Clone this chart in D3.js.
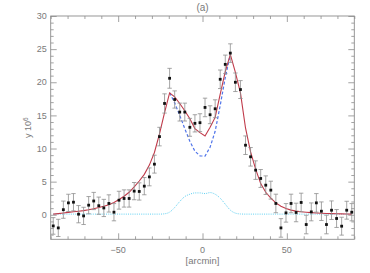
<!DOCTYPE html>
<html>
<head>
<meta charset="utf-8">
<script src="https://cdn.jsdelivr.net/npm/d3@7"></script>
<style>
  body { margin: 0; background: #fff; }
  text { font-family: "Liberation Sans", Arial, sans-serif; }
</style>
</head>
<body>
<svg id="chart" width="370" height="273"></svg>
<script>
// offsets along the scan, arcmin
const offsets = [-88.5, -85.5, -82.5, -79.5, -76.5, -73.5, -70.5, -67.5, -64.5, -61.5,
    -58.5, -55.5, -52.5, -49.5, -46.5, -43.5, -40.5, -37.5, -34.5, -31.5,
    -28.5, -25.5, -22.5, -19.5, -16.5, -13.5, -10.5, -7.5, -4.5, -1.5,
    1.5, 4.5, 7.5, 10.5, 13.5, 16.5, 19.5, 22.5, 25.5, 28.5,
    31.5, 34.5, 37.5, 40.5, 43.5, 46.5, 49.5, 52.5, 55.5, 58.5,
    61.5, 64.5, 67.5, 70.5, 73.5, 76.5, 79.5, 82.5, 85.5, 88.5];

// measured y (x 10^6)
const measured = [-1.68, -1.98, 0.77, 1.80, 1.90, 0.09, -0.17, 1.45, 2.08, 1.37,
    1.03, 1.71, 0.39, 2.20, 2.46, 2.46, 3.57, 3.52, 4.32, 5.72,
    7.64, 11.8, 16.8, 20.6, 17.4, 15.5, 15.5, 13.2, 13.8, 13.9,
    16.2, 15.1, 16.0, 20.45, 22.7, 24.4, 20.0, 18.9, 10.5, 8.75,
    6.74, 5.48, 4.47, 3.72, 1.71, -1.98, 0.29, 1.71, 0.35, 1.86,
    -1.47, 0.44, 1.80, 0.54, -1.47, 0.69, -0.56, -1.72, 0.69, 0.39];

const errors = [1.25, 1.3, 1.3, 1.3, 1.3, 1.3, 1.3, 1.3, 1.3, 1.3,
    1.3, 1.3, 1.3, 1.35, 1.3, 1.3, 1.3, 1.3, 1.3, 1.35,
    1.35, 1.4, 1.45, 1.5, 1.3, 1.35, 1.35, 1.35, 1.3, 1.35,
    1.4, 1.35, 1.35, 1.4, 1.4, 1.4, 1.4, 1.35, 1.4, 1.4,
    1.4, 1.35, 1.4, 1.35, 1.4, 1.4, 1.4, 1.4, 1.4, 1.4,
    1.4, 1.35, 1.4, 1.4, 1.4, 1.4, 1.35, 1.35, 1.35, 1.3];

// total model (solid red)
const totalModel = [0.1, 0.18, 0.27, 0.36, 0.45, 0.54, 0.63, 0.75, 0.92, 1.1,
    1.3, 1.5, 1.85, 2.3, 2.8, 3.4, 4.2, 5.1, 6.1, 7.5,
    9.4, 12.2, 15.4, 18.4, 17.8, 16.8, 15.7, 14.5, 13.0, 12.4,
    11.9, 13.2, 14.7, 18.2, 21.6, 24.2, 21.5, 18.4, 13.1, 9.5,
    6.9, 4.7, 3.4, 2.5, 1.8, 1.3, 0.95, 0.7, 0.55, 0.45,
    0.38, 0.32, 0.27, 0.23, 0.2, 0.17, 0.15, 0.13, 0.11, 0.1];

// model without central component (dashed blue), only where it leaves the total
const dipOffsets = [-19.5, -16.5, -13.5, -10.5, -7.5, -4.5, -1.5, 1.5, 4.5, 7.5, 10.5, 13.5, 16.5];
const dipModel = [18.4, 16.9, 15.0, 13.0, 11.1, 9.6, 8.9, 8.85, 10.2, 12.6, 16.5, 20.7, 24.2];

// central component (dotted cyan)
const bumpModel = [0.1, 0.1, 0.1, 0.1, 0.1, 0.1, 0.1, 0.1, 0.1, 0.1,
    0.1, 0.1, 0.1, 0.1, 0.1, 0.1, 0.1, 0.1, 0.1, 0.1,
    0.1, 0.1, 0.15, 0.4, 1.1, 2.0, 2.75, 3.1, 3.3, 3.3,
    3.2, 3.35, 3.1, 2.5, 1.6, 0.7, 0.25, 0.12, 0.1, 0.1,
    0.1, 0.1, 0.1, 0.1, 0.1, 0.1, 0.1, 0.1, 0.1, 0.1,
    0.1, 0.1, 0.1, 0.1, 0.1, 0.1, 0.1, 0.1, 0.1, 0.1];

const xMajorTicks = [-50, 0, 50];
const yMajorTicks = [0, 5, 10, 15, 20, 25, 30];

const width = 370, height = 273;
const margin = { top: 16, right: 15.7, bottom: 33.7, left: 50.7 };
const innerW = width - margin.left - margin.right;
const innerH = height - margin.top - margin.bottom;

const axisColour = "#8c8c8c";
const labelColour = "#7a7a7a";

const svg = d3.select("#chart");
const chartArea = svg.append("g")
    .attr("transform", `translate(${margin.left},${margin.top})`);

const xScale = d3.scaleLinear().domain([-90, 90]).range([0, innerW]);
const yScale = d3.scaleLinear().domain([-3.7, 30]).range([innerH, 0]);

const xMinorTicks = xScale.ticks(18).filter(d => !xMajorTicks.includes(d));
const yMinorTicks = yScale.ticks(34).filter(d => !yMajorTicks.includes(d));

// frame and inward ticks on all four sides
const addAxis = (axisFn, scale, ticks, size, transform) => {
    const g = chartArea.append("g")
        .attr("transform", transform)
        .call(axisFn(scale).tickValues(ticks).tickSize(size).tickFormat(""));
    g.selectAll("path").remove();
    g.selectAll("line").attr("stroke", axisColour).attr("stroke-width", 0.8);
    return g;
};

addAxis(d3.axisBottom, xScale, xMajorTicks, -6, `translate(0,${innerH})`);
addAxis(d3.axisBottom, xScale, xMinorTicks, -3, `translate(0,${innerH})`);
addAxis(d3.axisTop, xScale, xMajorTicks, -6, "translate(0,0)");
addAxis(d3.axisTop, xScale, xMinorTicks, -3, "translate(0,0)");
addAxis(d3.axisLeft, yScale, yMajorTicks, -6, "translate(0,0)");
addAxis(d3.axisLeft, yScale, yMinorTicks, -3, "translate(0,0)");
addAxis(d3.axisRight, yScale, yMajorTicks, -6, `translate(${innerW},0)`);
addAxis(d3.axisRight, yScale, yMinorTicks, -3, `translate(${innerW},0)`);

chartArea.append("rect")
    .attr("width", innerW)
    .attr("height", innerH)
    .attr("fill", "none")
    .attr("stroke", axisColour)
    .attr("stroke-width", 0.9);

chartArea.selectAll(".x-label")
    .data(xMajorTicks)
    .join("text")
    .attr("class", "x-label")
    .attr("x", d => xScale(d))
    .attr("y", innerH + 14)
    .attr("text-anchor", "middle")
    .attr("font-size", 9)
    .attr("fill", labelColour)
    .text(d => d < 0 ? "\u2212" + Math.abs(d) : d);

chartArea.selectAll(".y-label")
    .data(yMajorTicks)
    .join("text")
    .attr("class", "y-label")
    .attr("x", -4)
    .attr("y", d => yScale(d))
    .attr("dy", "0.35em")
    .attr("text-anchor", "end")
    .attr("font-size", 9)
    .attr("fill", labelColour)
    .text(d => d);

// model curves
const modelLine = (xs) => d3.line()
    .x((d, i) => xScale(xs[i]))
    .y(d => yScale(d));

chartArea.append("path")
    .datum(bumpModel)
    .attr("fill", "none")
    .attr("stroke", "#5fd0f2")
    .attr("stroke-width", 1)
    .attr("stroke-dasharray", "1,1.2")
    .attr("d", modelLine(offsets).curve(d3.curveMonotoneX));

chartArea.append("path")
    .datum(dipModel)
    .attr("fill", "none")
    .attr("stroke", "#4f74ea")
    .attr("stroke-width", 1.2)
    .attr("stroke-dasharray", "3,2")
    .attr("d", modelLine(dipOffsets));

chartArea.append("path")
    .datum(totalModel)
    .attr("fill", "none")
    .attr("stroke", "#c03a4a")
    .attr("stroke-width", 1.1)
    .attr("d", modelLine(offsets));

// error bars
const points = offsets.map((x, i) => ({ x, y: measured[i], e: errors[i] }));
const capHalf = 2.2;

const bars = chartArea.selectAll(".err")
    .data(points)
    .join("g")
    .attr("class", "err")
    .attr("stroke", "#8e8e8e")
    .attr("stroke-width", 0.8);
bars.append("line")
    .attr("x1", d => xScale(d.x)).attr("x2", d => xScale(d.x))
    .attr("y1", d => yScale(d.y - d.e)).attr("y2", d => yScale(d.y + d.e));
bars.append("line")
    .attr("x1", d => xScale(d.x) - capHalf).attr("x2", d => xScale(d.x) + capHalf)
    .attr("y1", d => yScale(d.y + d.e)).attr("y2", d => yScale(d.y + d.e));
bars.append("line")
    .attr("x1", d => xScale(d.x) - capHalf).attr("x2", d => xScale(d.x) + capHalf)
    .attr("y1", d => yScale(d.y - d.e)).attr("y2", d => yScale(d.y - d.e));

chartArea.selectAll(".pt")
    .data(points)
    .join("rect")
    .attr("class", "pt")
    .attr("x", d => xScale(d.x) - 1.4)
    .attr("y", d => yScale(d.y) - 1.4)
    .attr("width", 2.8)
    .attr("height", 2.8)
    .attr("fill", "#111");

// titles
svg.append("text")
    .attr("x", margin.left + xScale(0))
    .attr("y", 11)
    .attr("text-anchor", "middle")
    .attr("font-size", 10)
    .attr("fill", labelColour)
    .text("(a)");

svg.append("text")
    .attr("x", margin.left + xScale(0))
    .attr("y", 264)
    .attr("text-anchor", "middle")
    .attr("font-size", 9.5)
    .attr("fill", labelColour)
    .text("[arcmin]");

const yTitle = svg.append("text")
    .attr("transform", `translate(31,${margin.top + innerH / 2}) rotate(-90)`)
    .attr("text-anchor", "middle")
    .attr("font-size", 9)
    .attr("fill", labelColour);
yTitle.append("tspan").text("y 10");
yTitle.append("tspan").attr("dy", -3).attr("font-size", 6.5).text("6");
</script>
</body>
</html>
